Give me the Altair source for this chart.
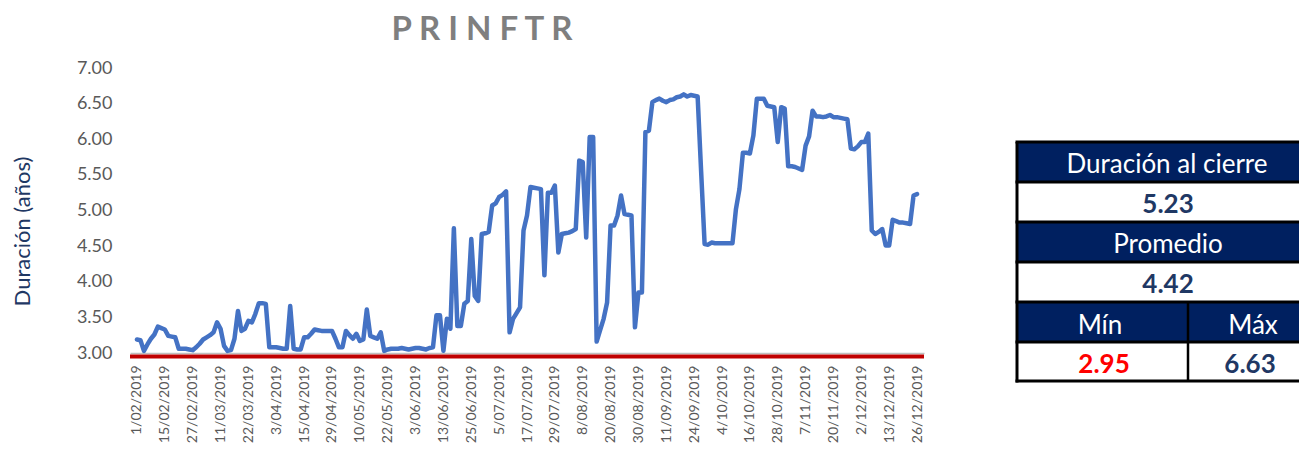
import altair as alt
import pandas as pd

# ---------------- data ----------------
VALUES = [
    3.19, 3.18, 3.03, 3.12, 3.20, 3.26, 3.37, 3.35, 3.33, 3.24,
    3.23, 3.22, 3.06, 3.06, 3.06, 3.05, 3.04, 3.08, 3.13, 3.19,
    3.22, 3.25, 3.29, 3.43, 3.34, 3.10, 3.03, 3.04, 3.20, 3.59,
    3.31, 3.34, 3.45, 3.43, 3.55, 3.70, 3.70, 3.69, 3.08, 3.08,
    3.08, 3.07, 3.06, 3.06, 3.66, 3.06, 3.05, 3.05, 3.22, 3.22,
    3.27, 3.33, 3.32, 3.31, 3.31, 3.31, 3.31, 3.20, 3.08, 3.08,
    3.31, 3.25, 3.20, 3.27, 3.17, 3.19, 3.61, 3.24, 3.22, 3.20,
    3.29, 3.03, 3.05, 3.06, 3.06, 3.06, 3.07, 3.06, 3.05, 3.06,
    3.07, 3.07, 3.06, 3.05, 3.07, 3.08, 3.53, 3.53, 3.03, 3.48,
    3.34, 4.75, 3.38, 3.38, 3.69, 3.73, 4.60, 3.80, 3.73, 4.67,
    4.68, 4.70, 5.07, 5.10, 5.19, 5.22, 5.27, 3.29, 3.48, 3.56,
    3.64, 4.72, 4.93, 5.33, 5.32, 5.31, 5.30, 4.09, 5.25, 5.25,
    5.35, 4.41, 4.67, 4.68, 4.69, 4.71, 4.74, 5.70, 5.68, 4.62,
    6.03, 6.03, 3.16, 3.32, 3.48, 3.71, 4.79, 4.79, 4.93, 5.21,
    4.95, 4.94, 4.93, 3.36, 3.85, 3.85, 6.10, 6.12, 6.52, 6.55,
    6.57, 6.54, 6.52, 6.55, 6.56, 6.59, 6.60, 6.63, 6.60, 6.62,
    6.61, 6.60, 5.55, 4.53, 4.52, 4.55, 4.54, 4.54, 4.54, 4.54,
    4.54, 4.54, 5.02, 5.30, 5.81, 5.81, 5.80, 6.05, 6.57, 6.57,
    6.57, 6.47, 6.46, 6.45, 5.96, 6.45, 6.43, 5.62, 5.62, 5.61,
    5.59, 5.57, 5.91, 6.04, 6.40, 6.32, 6.32, 6.31, 6.32, 6.34,
    6.31, 6.31, 6.30, 6.29, 6.28, 5.87, 5.86, 5.90, 5.96, 5.96,
    6.08, 4.72, 4.67, 4.70, 4.74, 4.51, 4.51, 4.87, 4.85, 4.83,
    4.83, 4.82, 4.81, 5.21, 5.23,
]

TICK_LABELS = [
    "1/02/2019", "15/02/2019", "27/02/2019", "11/03/2019", "22/03/2019",
    "3/04/2019", "15/04/2019", "29/04/2019", "10/05/2019", "22/05/2019",
    "3/06/2019", "13/06/2019", "25/06/2019", "5/07/2019", "17/07/2019",
    "29/07/2019", "8/08/2019", "20/08/2019", "30/08/2019", "11/09/2019",
    "24/09/2019", "4/10/2019", "16/10/2019", "28/10/2019", "7/11/2019",
    "20/11/2019", "2/12/2019", "13/12/2019", "26/12/2019",
]
LABEL_STEP = 8

Y_TICKS = [3.0, 3.5, 4.0, 4.5, 5.0, 5.5, 6.0, 6.5, 7.0]
MIN_VALUE = [2.95]

TITLE = "P R I N F T R"
Y_TITLE = "Duración (años)"

TABLE_HEAD_CLOSE = "Duración al cierre"
TABLE_VAL_CLOSE = "5.23"
TABLE_HEAD_MEAN = "Promedio"
TABLE_VAL_MEAN = "4.42"
TABLE_HEAD_MIN = "Mín"
TABLE_HEAD_MAX = "Máx"
TABLE_VAL_MIN = "2.95"
TABLE_VAL_MAX = "6.63"

# ---------------- layout / style ----------------
W, H = 794, 285
FONT = "Lato"
NAVY = "#002060"
NUM_COLOR = "#1F3864"
GREY_TXT = "#595959"

df = pd.DataFrame({"idx": list(range(len(VALUES))), "value": VALUES})
label_js = "[" + ",".join("'" + s + "'" for s in TICK_LABELS) + "]"
tick_vals = [i * LABEL_STEP for i in range(len(TICK_LABELS))]

line = alt.Chart(df).mark_line(
    color="#4472C4", strokeWidth=4.5, strokeJoin="round", strokeCap="round"
).encode(
    x=alt.X(
        "idx:Q",
        scale=alt.Scale(domain=[-2, 226], nice=False, zero=False),
        axis=alt.Axis(
            values=tick_vals,
            labelExpr=label_js + "[round(datum.value/" + str(LABEL_STEP) + ")]",
            labelAngle=270,
            labelFont=FONT,
            labelFontSize=14,
            labelColor=GREY_TXT,
            labelPadding=12,
            labelFlush=False,
            labelOverlap=False,
            ticks=False,
            grid=False,
            domainColor="#BFBFBF",
            domainWidth=1.5,
            title=None,
        ),
    ),
    y=alt.Y(
        "value:Q",
        scale=alt.Scale(domain=[3, 7], nice=False, zero=False),
        axis=alt.Axis(
            values=Y_TICKS,
            format=".2f",
            labelFont=FONT,
            labelFontSize=18,
            labelColor=GREY_TXT,
            labelPadding=18,
            labelOverlap=False,
            labelBound=False,
            ticks=False,
            grid=False,
            domain=False,
            title=Y_TITLE,
            titleFont=FONT,
            titleFontSize=22,
            titleFontWeight="normal",
            titleColor=NUM_COLOR,
            titleX=-108,
            titleY=163,
            titleAngle=270,
            titleAlign="center",
            titleBaseline="middle",
        ),
    ),
)

min_rule = alt.Chart(pd.DataFrame({"v": MIN_VALUE})).mark_rule(
    color="#C00000", strokeWidth=4
).encode(
    y=alt.Y("v:Q", scale=alt.Scale(domain=[3, 7], nice=False, zero=False), axis=None),
    x=alt.value(0),
    x2=alt.value(W),
)

one = pd.DataFrame({"a": [0]})

title = alt.Chart(one).mark_text(
    font=FONT, fontSize=33, fontWeight="bold", color="#7F7F7F",
    align="center", baseline="alphabetic",
).encode(text=alt.value(TITLE), x=alt.value(352), y=alt.value(-28))

# table geometry (relative to the plot origin)
TL, TR, TS = 887, 1169, 1058
ROWS = [74, 114, 154, 194, 234, 274, 313]

layers = [line, min_rule, title]

for r0, r1 in [(ROWS[0], ROWS[1]), (ROWS[2], ROWS[3]), (ROWS[4], ROWS[5])]:
    layers.append(
        alt.Chart(one).mark_rect(color=NAVY).encode(
            x=alt.value(TL), x2=alt.value(TR), y=alt.value(r0), y2=alt.value(r1)
        )
    )

for ry in ROWS:
    layers.append(
        alt.Chart(one).mark_rule(color="#000000", strokeWidth=3).encode(
            x=alt.value(TL - 1.5), x2=alt.value(TR), y=alt.value(ry)
        )
    )
layers.append(
    alt.Chart(one).mark_rule(color="#000000", strokeWidth=3).encode(
        x=alt.value(TL), y=alt.value(ROWS[0]), y2=alt.value(ROWS[-1] + 1.5)
    )
)
layers.append(
    alt.Chart(one).mark_rule(color="#000000", strokeWidth=2.5).encode(
        x=alt.value(TS), y=alt.value(ROWS[4]), y2=alt.value(ROWS[-1])
    )
)


def cell_text(txt, x, y, color, bold):
    return alt.Chart(one).mark_text(
        font=FONT, fontSize=26, fontWeight="bold" if bold else "normal",
        color=color, align="center", baseline="alphabetic",
    ).encode(text=alt.value(txt), x=alt.value(x), y=alt.value(y))


layers += [
    cell_text(TABLE_HEAD_CLOSE, 1037, 105, "#FFFFFF", False),
    cell_text(TABLE_VAL_CLOSE, 1038, 145, NUM_COLOR, True),
    cell_text(TABLE_HEAD_MEAN, 1038, 185, "#FFFFFF", False),
    cell_text(TABLE_VAL_MEAN, 1038, 225, NUM_COLOR, True),
    cell_text(TABLE_HEAD_MIN, 970, 266, "#FFFFFF", False),
    cell_text(TABLE_HEAD_MAX, 1123, 266, "#FFFFFF", False),
    cell_text(TABLE_VAL_MIN, 974, 305, "#FF0000", True),
    cell_text(TABLE_VAL_MAX, 1120, 305, NUM_COLOR, True),
]

chart = alt.layer(*layers).resolve_scale(y="independent").properties(
    width=W,
    height=H,
    autosize=alt.AutoSizeParams(type="none"),
    padding={"left": 122, "top": 60, "right": 375, "bottom": 91},
).configure_view(stroke=None)

chart.save("out.html", embed_options={"renderer": "svg", "actions": False})
